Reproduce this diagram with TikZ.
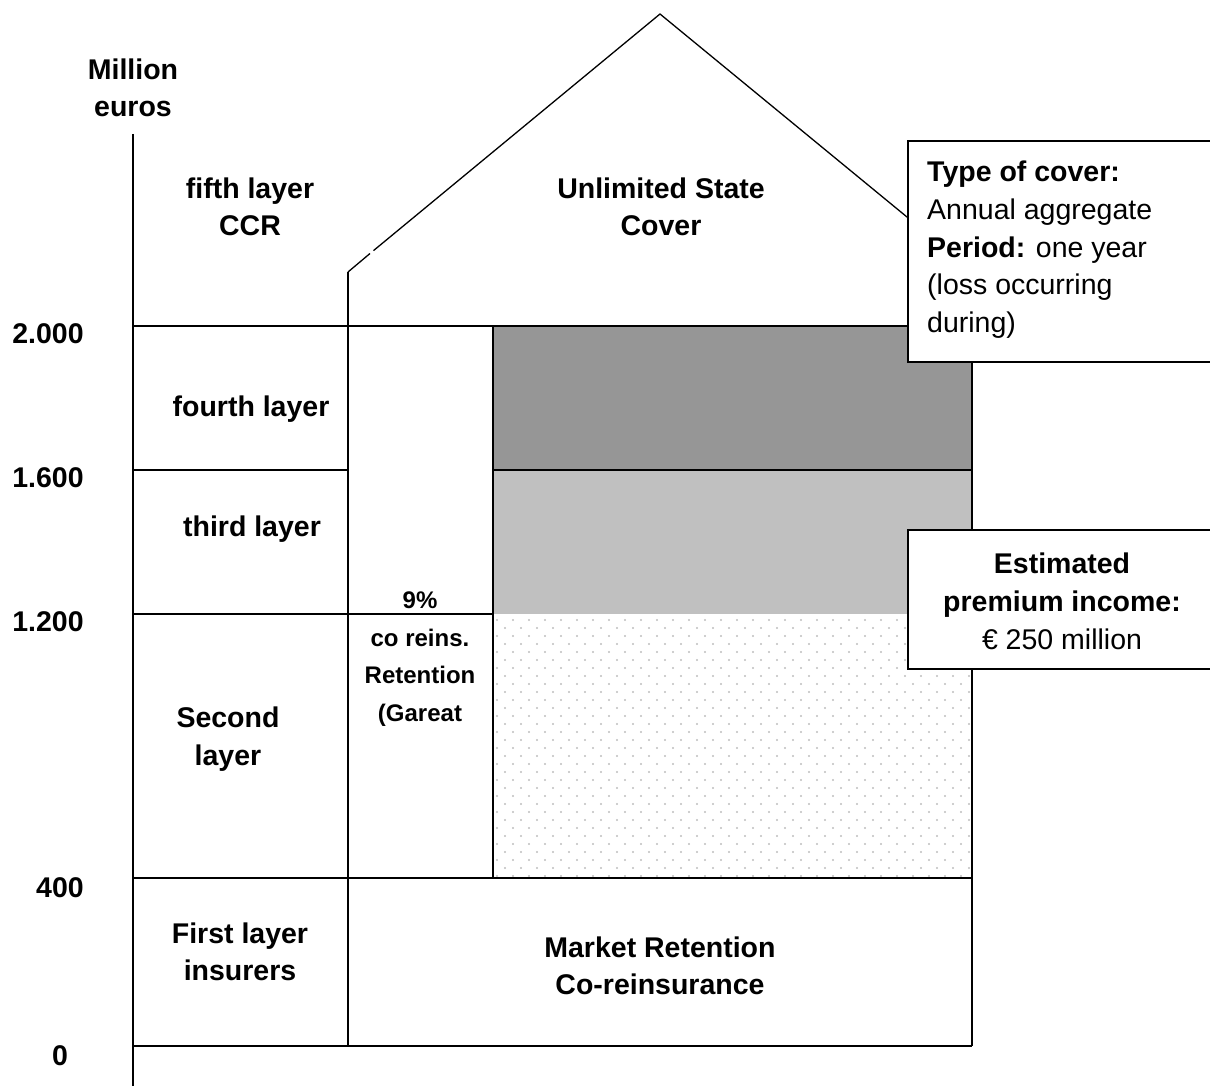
\documentclass[tikz,border=0pt]{standalone}
\usepackage{fontspec}
\setmainfont{Liberation Sans}
\definecolor{darkfill}{RGB}{150,150,150}
\definecolor{lightfill}{RGB}{192,192,192}
\definecolor{dotcol}{RGB}{190,190,190}
\begin{document}
\begin{tikzpicture}[x=1pt,y=-1pt,
  ln/.style={line width=1.6pt,black},
  thk/.style={line width=2.2pt,black},
  roof/.style={line width=1.3pt,black},
  big/.style={font=\fontsize{28.5}{37.5}\selectfont\bfseries,align=center,inner sep=0pt},
  axnum/.style={font=\fontsize{28.5}{37.5}\selectfont\bfseries,inner sep=0pt,anchor=base},
  small/.style={font=\fontsize{24}{37.5}\selectfont\bfseries,align=center,inner sep=0pt},
  infobox/.style={draw=black,line width=1.6pt,fill=white}]
\useasboundingbox (0,0) rectangle (1210,1086);
\clip (0,0) rectangle (1210,1086);
% fills
\fill[darkfill] (493,326) rectangle (972,470);
\fill[lightfill] (493,470) rectangle (972,614);
\foreach \i in {0,...,29}{
  \foreach \j in {0,...,16}{
    \fill[dotcol] ({497+16*\i},{620+16*\j}) circle (1.1pt);
  }
  \foreach \j in {0,...,15}{
    \fill[dotcol] ({505+16*\i},{628+16*\j}) circle (1.1pt);
  }
}
% coordinates
\coordinate (axtop) at (133,134);
\coordinate (axbot) at (133,1090);
\coordinate (wallbase) at (348,1046);
\coordinate (walltop) at (348,272);
\coordinate (gapA) at (370,253.5);
\coordinate (gapB) at (373.5,250.6);
\coordinate (apex) at (660,14);
\coordinate (roofend) at (920,227.7);
% axis
\draw[ln] (axtop) -- (axbot);
% house wall and roof
\draw[ln] (wallbase) -- (walltop);
\draw[roof] (walltop) -- (gapA);
\draw[roof] (gapB) -- (apex) -- (roofend);
% horizontal lines
\draw[ln] (133,326) -- (493,326);
\draw[thk] (493,326) -- (972,326);
\draw[ln] (133,470) -- (348,470);
\draw[thk] (493,470) -- (972,470);
\draw[ln] (133,614) -- (493,614);
\draw[ln] (133,878) -- (972,878);
\draw[ln] (133,1046) -- (972,1046);
% verticals
\draw[thk] (493,326) -- (493,878);
\draw[thk] (972,326) -- (972,1046);
% info boxes
\node[infobox,minimum width=310pt,minimum height=221pt,anchor=north west,inner sep=0pt] (typebox) at (907,140) {};
\node[infobox,minimum width=310pt,minimum height=139pt,anchor=north west,inner sep=0pt] (prembox) at (907,529) {};
% texts
\node[big] (unit) at (133,88) {Million\\euros};
\node[axnum] (n2000) at (48,343) {2.000};
\node[axnum] (n1600) at (48,487) {1.600};
\node[axnum] (n1200) at (48,631) {1.200};
\node[axnum] (n400) at (60,897) {400};
\node[axnum] (n0) at (60,1065) {0};
\node[big] (fifth) at (250,207) {fifth layer\\CCR};
\node[big] (state) at (661,207) {Unlimited State\\Cover};
\node[big,anchor=base] (fourth) at (251,416) {fourth layer};
\node[big,anchor=base] (third) at (252,536) {third layer};
\node[big] (second) at (228,739) {Second\\layer};
\node[big] (first) at (240,952) {First layer\\insurers};
\node[big] (market) at (660,966) {Market Retention\\Co-reinsurance};
\node[small] (gareat) at (420,659) {9\%\\co reins.\\Retention\\(Gareat};
\node[font=\fontsize{28.5}{37.6}\selectfont,align=left,inner sep=0pt,anchor=north west] (typetext) at (927,161)
  {\textbf{Type of cover:}\\Annual aggregate\\\textbf{Period:} one year\\(loss occurring\\during)};
\node[font=\fontsize{28.5}{38}\selectfont,align=center,inner sep=0pt] (premtext) at (1062,601)
  {\textbf{Estimated}\\\textbf{premium income:}\\€ 250 million};
\end{tikzpicture}
\end{document}
